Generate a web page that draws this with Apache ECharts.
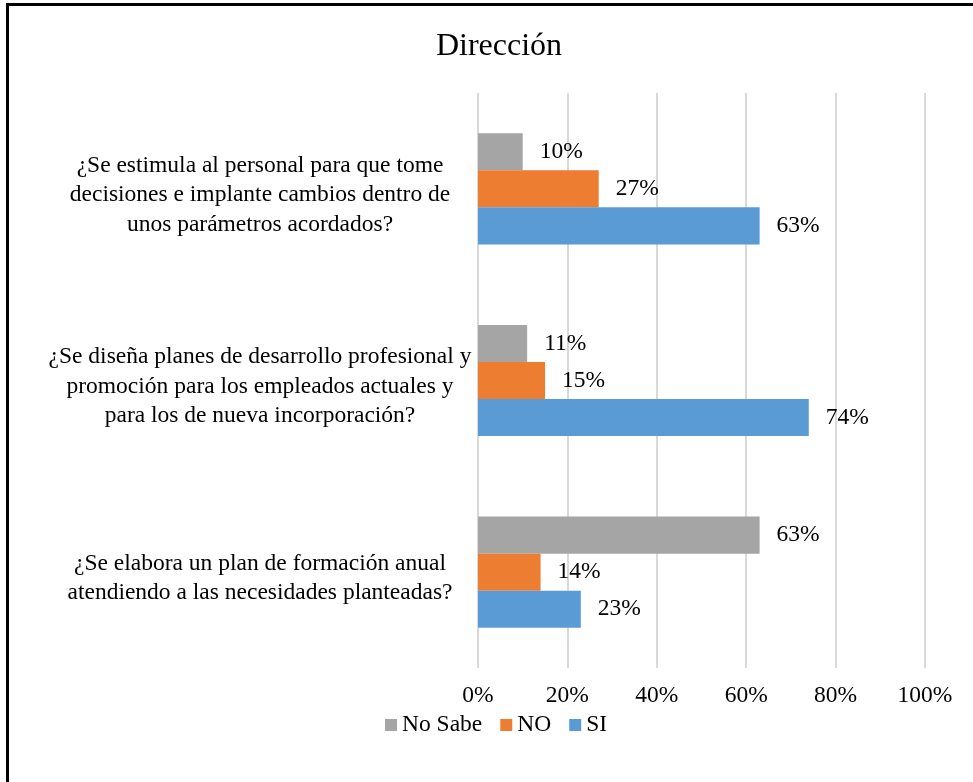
<!DOCTYPE html>
<html>
<head>
<meta charset="utf-8">
<script src="https://cdn.jsdelivr.net/npm/echarts@6/dist/echarts.min.js"></script>
<style>
  html, body { margin: 0; padding: 0; background: #fff; }
  #chart { width: 973px; height: 782px; }
</style>
</head>
<body>
<div id="chart"></div>
<script>
// Questions, listed bottom to top along the y axis
const categories = [
  '¿Se elabora un plan de formación anual\natendiendo a las necesidades planteadas?',
  '¿Se diseña planes de desarrollo profesional y\npromoción para los empleados actuales y\npara los de nueva incorporación?',
  '¿Se estimula al personal para que tome\ndecisiones e implante cambios dentro de\nunos parámetros acordados?'
];
// Percentages per answer, same order as categories
const siValues = [23, 74, 63];
const noValues = [14, 15, 27];
const noSabeValues = [63, 11, 10];
const xTicks = [0, 20, 40, 60, 80, 100];

const FONT = '"Liberation Serif", "Times New Roman", serif';
const chart = echarts.init(document.getElementById('chart'));

function barSeries(name, data, color) {
  return {
    name: name,
    type: 'bar',
    data: data,
    barGap: '0%',
    barCategoryGap: '42%',
    itemStyle: { color: color },
    label: {
      show: true,
      position: 'right',
      distance: 17,
      formatter: p => p.value + '%',
      fontFamily: FONT,
      fontSize: 23.5,
      color: '#000'
    }
  };
}

chart.setOption({
  animation: false,
  backgroundColor: '#fff',
  title: {
    text: 'Dirección',
    left: 494,
    textAlign: 'center',
    top: 26,
    textStyle: { fontFamily: FONT, fontSize: 32, fontWeight: 'normal', color: '#000' }
  },
  legend: {
    data: ['No Sabe', 'NO', 'SI'],
    left: 380,
    top: 708,
    itemWidth: 12,
    itemHeight: 12,
    itemGap: 18,
    icon: 'rect',
    textStyle: { fontFamily: FONT, fontSize: 23.5, color: '#000' }
  },
  grid: { left: 478, right: 48, top: 93, bottom: 114, containLabel: false },
  xAxis: {
    type: 'value',
    min: xTicks[0],
    max: xTicks[xTicks.length - 1],
    interval: 20,
    axisLine: { show: false },
    axisTick: { show: false },
    splitLine: { show: true, lineStyle: { color: '#d9d9d9', width: 2 } },
    axisLabel: {
      formatter: v => v + '%',
      fontFamily: FONT,
      fontSize: 23.5,
      color: '#000',
      margin: 16
    }
  },
  yAxis: {
    type: 'category',
    data: categories,
    axisLine: { show: false },
    axisTick: { show: false },
    axisLabel: {
      align: 'center',
      margin: 218,
      // a thin spacer line on top nudges the wrapped question a little lower
      formatter: v => '{s| }\n' + v.split('\n').map(l => '{q|' + l + '}').join('\n'),
      rich: {
        s: { fontSize: 2, lineHeight: 12 },
        q: { fontFamily: FONT, fontSize: 23.5, lineHeight: 29.5, color: '#000' }
      },
      fontFamily: FONT,
      fontSize: 23.5,
      lineHeight: 29.5,
      color: '#000'
    }
  },
  series: [
    barSeries('No Sabe', noSabeValues, '#a5a5a5'),
    barSeries('NO', noValues, '#ed7d31'),
    barSeries('SI', siValues, '#5b9bd5')
  ],
  graphic: [{
    type: 'rect',
    shape: { x: 7.5, y: 4.5, width: 1000, height: 800 },
    style: { fill: 'none', stroke: '#000', lineWidth: 3 },
    silent: true
  }]
});
</script>
</body>
</html>
